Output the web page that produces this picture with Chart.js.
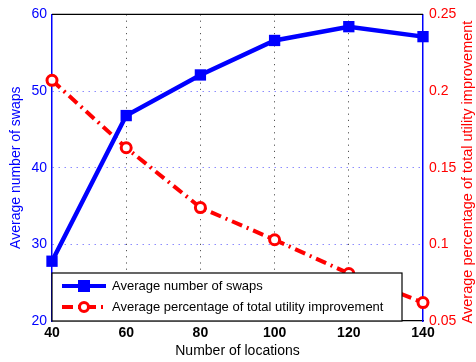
<!DOCTYPE html>
<html>
<head>
<meta charset="utf-8">
<script src="https://cdn.jsdelivr.net/npm/chart.js@4/dist/chart.umd.min.js"></script>
<style>
  html, body { margin: 0; padding: 0; background: #fff; }
  #wrap { width: 476px; height: 362px; }
</style>
</head>
<body>
<div id="wrap"><canvas id="chart" width="476" height="362"></canvas></div>
<script>
// number of locations on the x axis
const locations = [40, 60, 80, 100, 120, 140];
// average number of swaps (left axis)
const swaps = [27.8, 46.8, 52.1, 56.6, 58.4, 57.1];
// average percentage of total utility improvement (right axis)
const utility = [0.207, 0.163, 0.124, 0.103, 0.081, 0.062];

const swapsLabel = 'Average number of swaps';
const utilityLabel = 'Average percentage of total utility improvement';
const xTitle = 'Number of locations';

const FONT = '"Liberation Sans", Arial, sans-serif';
const BLUE = '#0000ff';
const RED = '#ff0000';

function toPoints(ys) {
    return locations.map((x, i) => ({ x: x, y: ys[i] }));
}

// titles, top frame line and the boxed legend
const decorations = {
    id: 'decorations',
    afterDraw(chart) {
        const ctx = chart.ctx;
        const a = chart.chartArea;
        ctx.save();

        // top border of the plot box
        ctx.strokeStyle = '#000';
        ctx.lineWidth = 1.2;
        ctx.beginPath();
        ctx.moveTo(a.left, a.top);
        ctx.lineTo(a.right, a.top);
        ctx.stroke();

        // axis titles
        ctx.font = '14px ' + FONT;
        ctx.textAlign = 'center';
        ctx.textBaseline = 'middle';
        ctx.fillStyle = '#000';
        ctx.fillText(xTitle, (a.left + a.right) / 2, 351);

        const midY = (a.top + a.bottom) / 2;
        ctx.save();
        ctx.translate(16, midY);
        ctx.rotate(-Math.PI / 2);
        ctx.fillStyle = BLUE;
        ctx.fillText(swapsLabel, 0, 0);
        ctx.restore();

        ctx.save();
        ctx.translate(468, 172);
        ctx.rotate(-Math.PI / 2);
        ctx.fillStyle = RED;
        ctx.font = '14.5px ' + FONT;
        ctx.fillText(utilityLabel, 0, 0);
        ctx.restore();

        // legend box
        const bx = 52, by = 273, bw = 350, bh = 48;
        ctx.fillStyle = '#fff';
        ctx.fillRect(bx, by, bw, bh);
        ctx.strokeStyle = '#000';
        ctx.lineWidth = 1.2;
        ctx.strokeRect(bx, by, bw, bh);

        const sx1 = 62, sx2 = 106, mx = 84;
        const row1 = 286, row2 = 307;

        ctx.lineWidth = 4;
        ctx.strokeStyle = BLUE;
        ctx.beginPath();
        ctx.moveTo(sx1, row1);
        ctx.lineTo(sx2, row1);
        ctx.stroke();
        ctx.fillStyle = BLUE;
        ctx.fillRect(mx - 6, row1 - 6, 12, 12);

        ctx.strokeStyle = RED;
        ctx.setLineDash([11, 5, 2, 5]);
        ctx.beginPath();
        ctx.moveTo(sx1, row2);
        ctx.lineTo(sx2, row2);
        ctx.stroke();
        ctx.setLineDash([]);
        ctx.lineWidth = 3;
        ctx.fillStyle = '#fff';
        ctx.beginPath();
        ctx.arc(mx, row2, 4.5, 0, Math.PI * 2);
        ctx.fill();
        ctx.stroke();

        ctx.font = '13px ' + FONT;
        ctx.textAlign = 'left';
        ctx.fillStyle = '#000';
        ctx.fillText(swapsLabel, 112, row1);
        ctx.fillText(utilityLabel, 112, row2);

        ctx.restore();
    }
};

const ctx = document.getElementById('chart').getContext('2d');
const chart = new Chart(ctx, {
    type: 'line',
    data: {
        datasets: [
            {
                label: swapsLabel,
                data: toPoints(swaps),
                yAxisID: 'y',
                borderColor: BLUE,
                backgroundColor: BLUE,
                borderWidth: 4.5,
                pointStyle: 'rect',
                pointRadius: 8,
                pointBorderWidth: 0,
                pointBackgroundColor: BLUE,
                tension: 0,
                clip: false
            },
            {
                label: utilityLabel,
                data: toPoints(utility),
                yAxisID: 'y1',
                borderColor: RED,
                backgroundColor: '#fff',
                borderWidth: 4,
                borderDash: [11, 5, 2, 5],
                pointStyle: 'circle',
                pointRadius: 5,
                pointBorderWidth: 3,
                pointBorderColor: RED,
                pointBackgroundColor: '#fff',
                tension: 0,
                clip: false
            }
        ]
    },
    options: {
        responsive: false,
        animation: false,
        devicePixelRatio: 1,
        layout: { padding: { top: 13 } },
        plugins: {
            legend: { display: false },
            tooltip: { enabled: false }
        },
        scales: {
            x: {
                type: 'linear',
                min: 40,
                max: 140,
                afterFit: s => { s.height = 41; },
                ticks: {
                    stepSize: 20,
                    color: '#000',
                    padding: 4,
                    font: { family: FONT, size: 14, weight: 'bold' }
                },
                grid: {
                    drawTicks: false,
                    lineWidth: 1,
                    color: c => (c.tick && (c.tick.value === 40 || c.tick.value === 140)) ? 'rgba(0,0,0,0)' : '#555'
                },
                border: { color: '#000', width: 1.2, dash: [1.2, 5] }
            },
            y: {
                position: 'left',
                min: 20,
                max: 60,
                afterFit: s => { s.width = 52; },
                ticks: {
                    stepSize: 10,
                    color: BLUE,
                    padding: 5,
                    font: { family: FONT, size: 14 }
                },
                grid: {
                    drawTicks: false,
                    lineWidth: 1,
                    color: c => (c.tick && (c.tick.value === 20 || c.tick.value === 60)) ? 'rgba(0,0,0,0)' : '#8c8cff'
                },
                border: { color: BLUE, width: 1.5, dash: [1.5, 4.5] }
            },
            y1: {
                position: 'right',
                min: 0.05,
                max: 0.25,
                afterFit: s => { s.width = 53; },
                ticks: {
                    stepSize: 0.05,
                    color: RED,
                    padding: 6,
                    font: { family: FONT, size: 14 },
                    callback: v => String(Math.round(v * 100) / 100)
                },
                grid: { drawOnChartArea: false, drawTicks: false },
                border: { color: BLUE, width: 1.5 }
            }
        }
    },
    plugins: [decorations]
});
</script>
</body>
</html>
